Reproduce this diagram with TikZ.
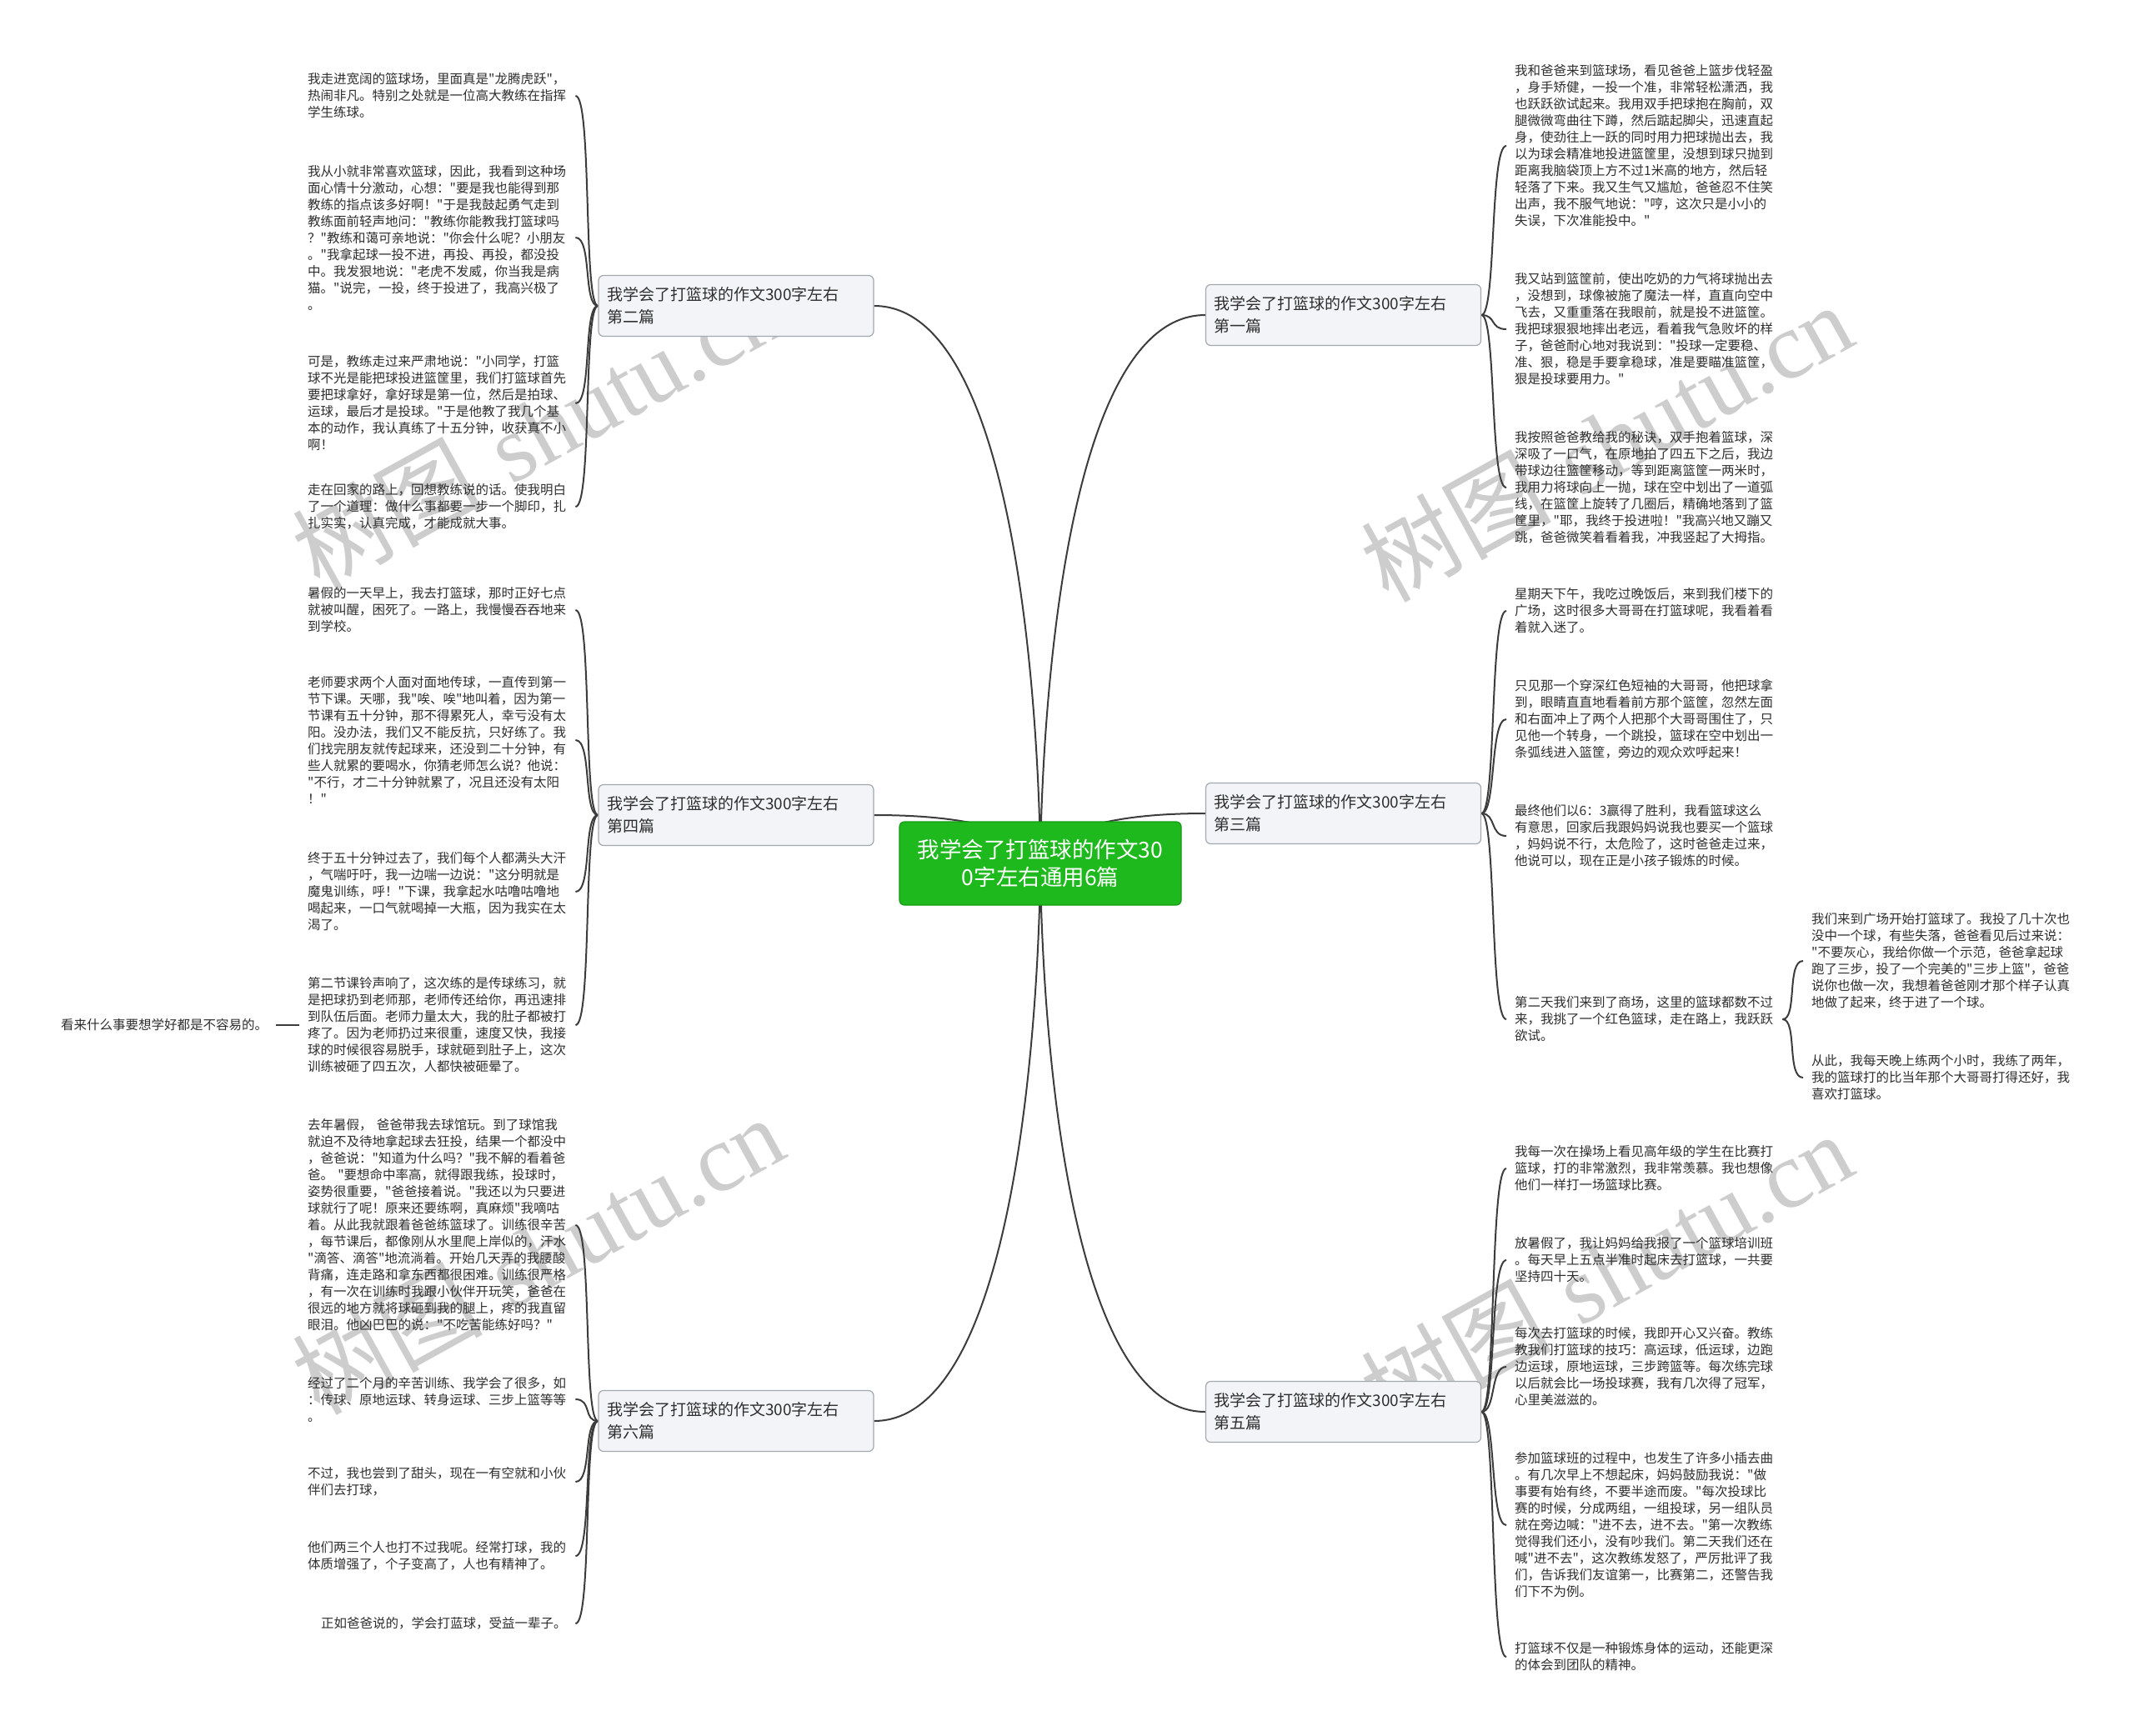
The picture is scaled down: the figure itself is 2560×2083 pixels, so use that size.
\documentclass[tikz,border=0pt]{standalone}
\usepackage{fontspec}
\newfontfamily\cjk{Noto Sans CJK SC}
\newfontfamily\wmserif{Liberation Serif}
\usetikzlibrary{backgrounds}
\definecolor{lineC}{HTML}{3C3C3C}
\definecolor{rootfill}{HTML}{1DB91D}
\definecolor{rootdraw}{HTML}{169A16}
\definecolor{brfill}{HTML}{F2F4F7}
\definecolor{brdraw}{HTML}{A3A8AF}
\definecolor{txt}{HTML}{2E2E2E}
\definecolor{wmc}{HTML}{CDCDCD}
\tikzset{
  txtblk/.style={font=\cjk\fontsize{15.5}{20}\selectfont, text=txt, align=left, text width=311pt, inner xsep=10pt, inner ysep=0pt, anchor=west},
  txtone/.style={font=\cjk\fontsize{15.5}{20}\selectfont, text=txt, inner xsep=10pt, inner ysep=0pt, anchor=west},
  branch/.style={draw=brdraw, fill=brfill, rounded corners=6pt, line width=1.2pt, font=\cjk\fontsize{19}{27}\selectfont, text=txt, align=left, text width=310pt, inner xsep=10pt, minimum height=73pt},
  rootnode/.style={draw=rootdraw, fill=rootfill, rounded corners=6pt, line width=1.2pt, font=\cjk\fontsize{26.5}{33}\selectfont, text=white, align=center, minimum width=338pt, minimum height=100pt},
  conn/.style={draw=lineC, line width=2pt},
  wmark/.style={text=wmc, rotate=29, inner sep=0pt, font=\fontsize{114}{120}\selectfont},
}
\begin{document}
\begin{tikzpicture}[x=1pt,y=-1pt]
\useasboundingbox (0,0) rectangle (2560,2083);

% root and branches
\node[rootnode] (r) at (1248,1036) {我学会了打篮球的作文30\\0字左右通用6篇};
\node[branch] (b2) at (883,367) {我学会了打篮球的作文300字左右\\第二篇};
\node[branch] (b4) at (883,978) {我学会了打篮球的作文300字左右\\第四篇};
\node[branch] (b6) at (883,1705) {我学会了打篮球的作文300字左右\\第六篇};
\node[branch] (b1) at (1611.5,378) {我学会了打篮球的作文300字左右\\第一篇};
\node[branch] (b3) at (1611.5,976) {我学会了打篮球的作文300字左右\\第三篇};
\node[branch] (b5) at (1611.5,1694) {我学会了打篮球的作文300字左右\\第五篇};

% ---- left: 第二篇
\node[txtblk] (t2a) at (359,115) {我走进宽阔的篮球场，里面真是"龙腾虎跃"，\\热闹非凡。特别之处就是一位高大教练在指挥\\学生练球。};
\node[txtblk] (t2b) at (359,285) {我从小就非常喜欢篮球，因此，我看到这种场\\面心情十分激动，心想："要是我也能得到那\\教练的指点该多好啊！"于是我鼓起勇气走到\\教练面前轻声地问："教练你能教我打篮球吗\\？"教练和蔼可亲地说："你会什么呢？小朋友\\。"我拿起球一投不进，再投、再投，都没投\\中。我发狠地说："老虎不发威，你当我是病\\猫。"说完，一投，终于投进了，我高兴极了\\。};
\node[txtblk] (t2c) at (359,484) {可是，教练走过来严肃地说："小同学，打篮\\球不光是能把球投进篮筐里，我们打篮球首先\\要把球拿好，拿好球是第一位，然后是拍球、\\运球，最后才是投球。"于是他教了我几个基\\本的动作，我认真练了十五分钟，收获真不小\\啊！};
\node[txtblk] (t2d) at (359,608) {走在回家的路上，回想教练说的话。使我明白\\了一个道理：做什么事都要一步一个脚印，扎\\扎实实，认真完成，才能成就大事。};

% ---- left: 第四篇
\node[txtblk] (t4a) at (359,732) {暑假的一天早上，我去打篮球，那时正好七点\\就被叫醒，困死了。一路上，我慢慢吞吞地来\\到学校。};
\node[txtblk] (t4b) at (359,888) {老师要求两个人面对面地传球，一直传到第一\\节下课。天哪，我"唉、唉"地叫着，因为第一\\节课有五十分钟，那不得累死人，幸亏没有太\\阳。没办法，我们又不能反抗，只好练了。我\\们找完朋友就传起球来，还没到二十分钟，有\\些人就累的要喝水，你猜老师怎么说？他说：\\"不行，才二十分钟就累了，况且还没有太阳\\！"};
\node[txtblk] (t4c) at (359,1070) {终于五十分钟过去了，我们每个人都满头大汗\\，气喘吁吁，我一边喘一边说："这分明就是\\魔鬼训练，呼！"下课，我拿起水咕噜咕噜地\\喝起来，一口气就喝掉一大瓶，因为我实在太\\渴了。};
\node[txtblk] (t4d) at (359,1230) {第二节课铃声响了，这次练的是传球练习，就\\是把球扔到老师那，老师传还给你，再迅速排\\到队伍后面。老师力量太大，我的肚子都被打\\疼了。因为老师扔过来很重，速度又快，我接\\球的时候很容易脱手，球就砸到肚子上，这次\\训练被砸了四五次，人都快被砸晕了。};
\node[txtone] (kl) at (63,1230) {看来什么事要想学好都是不容易的。};

% ---- left: 第六篇
\node[txtblk] (t6a) at (359,1470) {去年暑假， 爸爸带我去球馆玩。到了球馆我\\就迫不及待地拿起球去狂投，结果一个都没中\\，爸爸说："知道为什么吗？"我不解的看着爸\\爸。 "要想命中率高，就得跟我练，投球时，\\姿势很重要，"爸爸接着说。"我还以为只要进\\球就行了呢！原来还要练啊，真麻烦"我嘀咕\\着。从此我就跟着爸爸练篮球了。训练很辛苦\\，每节课后，都像刚从水里爬上岸似的，汗水\\"滴答、滴答"地流淌着。开始几天弄的我腰酸\\背痛，连走路和拿东西都很困难。训练很严格\\，有一次在训练时我跟小伙伴开玩笑，爸爸在\\很远的地方就将球砸到我的腿上，疼的我直留\\眼泪。他凶巴巴的说："不吃苦能练好吗？"};
\node[txtblk] (t6b) at (359,1679) {经过了二个月的辛苦训练、我学会了很多，如\\：传球、原地运球、转身运球、三步上篮等等\\。};
\node[txtblk] (t6c) at (359,1778) {不过，我也尝到了甜头，现在一有空就和小伙\\伴们去打球，};
\node[txtblk] (t6d) at (359,1867) {他们两三个人也打不过我呢。经常打球，我的\\体质增强了，个子变高了，人也有精神了。};
\node[txtblk] (t6e) at (359,1948) {\hspace*{16pt}正如爸爸说的，学会打蓝球，受益一辈子。};

% ---- right: 第一篇
\node[txtblk] (t1a) at (1807,175) {我和爸爸来到篮球场，看见爸爸上篮步伐轻盈\\，身手矫健，一投一个准，非常轻松潇洒，我\\也跃跃欲试起来。我用双手把球抱在胸前，双\\腿微微弯曲往下蹲，然后踮起脚尖，迅速直起\\身，使劲往上一跃的同时用力把球抛出去，我\\以为球会精准地投进篮筐里，没想到球只抛到\\距离我脑袋顶上方不过1米高的地方，然后轻\\轻落了下来。我又生气又尴尬，爸爸忍不住笑\\出声，我不服气地说："哼，这次只是小小的\\失误，下次准能投中。"};
\node[txtblk] (t1b) at (1807,395) {我又站到篮筐前，使出吃奶的力气将球抛出去\\，没想到，球像被施了魔法一样，直直向空中\\飞去，又重重落在我眼前，就是投不进篮筐。\\我把球狠狠地摔出老远，看着我气急败坏的样\\子，爸爸耐心地对我说到："投球一定要稳、\\准、狠，稳是手要拿稳球，准是要瞄准篮筐，\\狠是投球要用力。"};
\node[txtblk] (t1c) at (1807,585) {我按照爸爸教给我的秘诀，双手抱着篮球，深\\深吸了一口气，在原地拍了四五下之后，我边\\带球边往篮筐移动，等到距离篮筐一两米时，\\我用力将球向上一抛，球在空中划出了一道弧\\线，在篮筐上旋转了几圈后，精确地落到了篮\\筐里，"耶，我终于投进啦！"我高兴地又蹦又\\跳，爸爸微笑着看着我，冲我竖起了大拇指。};

% ---- right: 第三篇
\node[txtblk] (t3a) at (1807,733) {星期天下午，我吃过晚饭后，来到我们楼下的\\广场，这时很多大哥哥在打篮球呢，我看着看\\着就入迷了。};
\node[txtblk] (t3b) at (1807,863) {只见那一个穿深红色短袖的大哥哥，他把球拿\\到，眼睛直直地看着前方那个篮筐，忽然左面\\和右面冲上了两个人把那个大哥哥围住了，只\\见他一个转身，一个跳投，篮球在空中划出一\\条弧线进入篮筐，旁边的观众欢呼起来！};
\node[txtblk] (t3c) at (1807,1003) {最终他们以6：3赢得了胜利，我看篮球这么\\有意思，回家后我跟妈妈说我也要买一个篮球\\，妈妈说不行，太危险了，这时爸爸走过来，\\他说可以，现在正是小孩子锻炼的时候。};
\node[txtblk] (t3d) at (1807,1223) {第二天我们来到了商场，这里的篮球都数不过\\来，我挑了一个红色篮球，走在路上，我跃跃\\欲试。};
\node[txtblk] (t3e) at (2163,1153) {我们来到广场开始打篮球了。我投了几十次也\\没中一个球，有些失落，爸爸看见后过来说：\\"不要灰心，我给你做一个示范，爸爸拿起球\\跑了三步，投了一个完美的"三步上篮"，爸爸\\说你也做一次，我想着爸爸刚才那个样子认真\\地做了起来，终于进了一个球。};
\node[txtblk] (t3f) at (2163,1293) {从此，我每天晚上练两个小时，我练了两年，\\我的篮球打的比当年那个大哥哥打得还好，我\\喜欢打篮球。};

% ---- right: 第五篇
\node[txtblk] (t5a) at (1807,1402) {我每一次在操场上看见高年级的学生在比赛打\\篮球，打的非常激烈，我非常羡慕。我也想像\\他们一样打一场篮球比赛。};
\node[txtblk] (t5b) at (1807,1512) {放暑假了，我让妈妈给我报了一个篮球培训班\\。每天早上五点半准时起床去打篮球，一共要\\坚持四十天。};
\node[txtblk] (t5c) at (1807,1640) {每次去打篮球的时候，我即开心又兴奋。教练\\教我们打篮球的技巧：高运球，低运球，边跑\\边运球，原地运球，三步跨篮等。每次练完球\\以后就会比一场投球赛，我有几次得了冠军，\\心里美滋滋的。};
\node[txtblk] (t5d) at (1807,1830) {参加篮球班的过程中，也发生了许多小插去曲\\。有几次早上不想起床，妈妈鼓励我说："做\\事要有始有终，不要半途而废。"每次投球比\\赛的时候，分成两组，一组投球，另一组队员\\就在旁边喊："进不去，进不去。"第一次教练\\觉得我们还小，没有吵我们。第二天我们还在\\喊"进不去"，这次教练发怒了，严厉批评了我\\们，告诉我们友谊第一，比赛第二，还警告我\\们下不为例。};
\node[txtblk] (t5e) at (1807,1988) {打篮球不仅是一种锻炼身体的运动，还能更深\\的体会到团队的精神。};

\begin{pgfonlayer}{background}
\fill[white] (0,0) rectangle (2560,2083);
% watermarks
\node[wmark] (wm1) at (645,515) {{\cjk 树图} {\wmserif shutu.cn}};
\node[wmark] (wm2) at (1927,530) {{\cjk 树图} {\wmserif shutu.cn}};
\node[wmark] (wm3) at (645,1505) {{\cjk 树图} {\wmserif shutu.cn}};
\node[wmark] (wm4) at (1927,1525) {{\cjk 树图} {\wmserif shutu.cn}};
% root to branches
\foreach \b in {b1,b3,b5} {
  \draw[conn] (\b.west) .. controls (r.center |- \b.west) and (r.center) .. (r.center);
}
\foreach \b in {b2,b4,b6} {
  \draw[conn] (\b.east) .. controls (r.center |- \b.east) and (r.center) .. (r.center);
}
% left branches to texts
\foreach \b/\t in {b2/t2a,b2/t2b,b2/t2c,b2/t2d,b4/t4a,b4/t4b,b4/t4c,b4/t4d,b6/t6a,b6/t6b,b6/t6c,b6/t6d,b6/t6e} {
  \draw[conn] (\b.west) .. controls +(-18,0) and +(20,0) .. (\t.east);
}
% right branches to texts
\foreach \b/\t in {b1/t1a,b1/t1b,b1/t1c,b3/t3a,b3/t3b,b3/t3c,b3/t3d,b5/t5a,b5/t5b,b5/t5c,b5/t5d,b5/t5e,t3d/t3e,t3d/t3f} {
  \draw[conn] (\b.east) .. controls +(18,0) and +(-20,0) .. (\t.west);
}
\draw[conn] (t4d.west) -- (kl.east);
\end{pgfonlayer}
\end{tikzpicture}
\end{document}
